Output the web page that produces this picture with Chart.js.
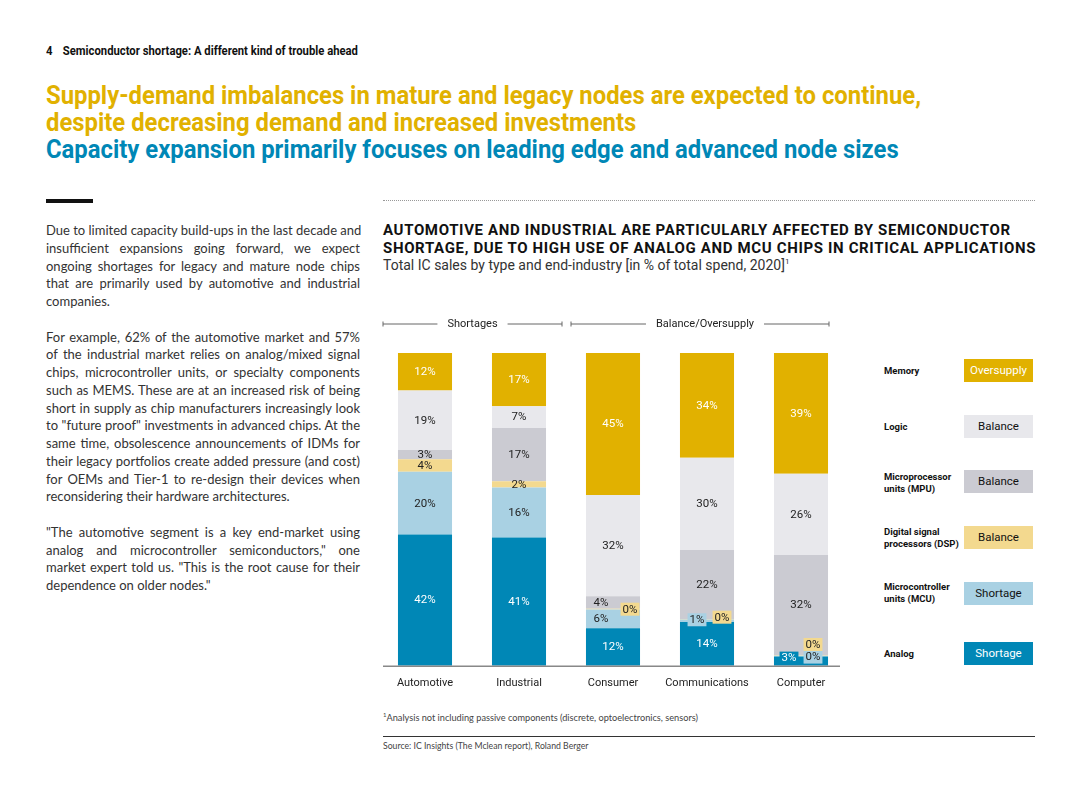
<!DOCTYPE html>
<html>
<head>
<meta charset="utf-8">
<script src="https://cdn.jsdelivr.net/npm/chart.js@4.4.1/dist/chart.umd.min.js"></script>
<style>
  html, body { margin: 0; padding: 0; background: #fff; }
  body { width: 1080px; height: 810px; position: relative; overflow: hidden; font-family: "Lato", "Noto Sans", sans-serif; color: #2b2b2b; }
  .abs { position: absolute; }
  #pagehead { left: 46px; top: 44px; font-family: "Roboto", sans-serif; font-weight: bold; font-size: 12px; color: #111; transform: scaleX(0.94); transform-origin: left top; white-space: nowrap; }
  #pagehead span { margin-right: 8px; }
  #title { left: 46px; top: 82px; font-family: "Roboto", sans-serif; font-weight: bold; font-size: 25px; line-height: 27px; transform: scaleX(0.954); transform-origin: left top; white-space: nowrap; }
  #title .y { color: #E1B100; }
  #title .b { color: #0087B6; }
  #blackbar { left: 46px; top: 199px; width: 47px; height: 4px; background: #111; }
  #dots { left: 383px; top: 200px; width: 652px; border-top: 1.5px dotted #999; }
  #body { left: 46px; top: 222px; width: 314px; font-size: 13px; line-height: 17.75px; color: #333; }
  #body div { text-align: justify; text-align-last: justify; white-space: nowrap; }
  #body div.last { text-align-last: left; }
  #body div.gap { height: 17.75px; }
  #chartHead { left: 383px; top: 221px; font-family: "Roboto", sans-serif; font-weight: bold; font-size: 15px; letter-spacing: 0.65px; line-height: 18px; color: #111; white-space: nowrap; }
  #chartSub { left: 383px; top: 257px; font-family: "Roboto", sans-serif; font-weight: 400; font-size: 14px; color: #333; white-space: nowrap; }
  #chartSub sup { font-size: 8px; }
  #chartWrap { left: 378px; top: 310px; width: 470px; height: 391px; }
  .lg { position: absolute; left: 884px; font-family: "Roboto", sans-serif; font-weight: bold; font-size: 9.5px; line-height: 12px; color: #111; }
  .lb { position: absolute; left: 964px; width: 69px; height: 23px; line-height: 23px; text-align: center; font-family: "Roboto", sans-serif; font-size: 11.5px; }
  #foot { left: 383px; top: 711px; font-size: 9.2px; color: #444; }
  #foot sup { font-size: 6px; }
  #rule { left: 383px; top: 736px; width: 652px; border-top: 1px solid #333; }
  #source { left: 383px; top: 740px; font-size: 8.7px; color: #444; }
</style>
</head>
<body>
<div id="pagehead" class="abs"><span>4</span> Semiconductor shortage: A different kind of trouble ahead</div>
<div id="title" class="abs">
  <div class="y">Supply-demand imbalances in mature and legacy nodes are expected to continue,</div>
  <div class="y">despite decreasing demand and increased investments</div>
  <div class="b">Capacity expansion primarily focuses on leading edge and advanced node sizes</div>
</div>
<div id="blackbar" class="abs"></div>
<div id="dots" class="abs"></div>

<div id="body" class="abs">
  <div>Due to limited capacity build-ups in the last decade and</div>
  <div>insufficient expansions going forward, we expect</div>
  <div>ongoing shortages for legacy and mature node chips</div>
  <div>that are primarily used by automotive and industrial</div>
  <div class="last">companies.</div>
  <div class="gap"></div>
  <div>For example, 62% of the automotive market and 57%</div>
  <div>of the industrial market relies on analog/mixed signal</div>
  <div>chips, microcontroller units, or specialty components</div>
  <div>such as MEMS. These are at an increased risk of being</div>
  <div>short in supply as chip manufacturers increasingly look</div>
  <div>to "future proof" investments in advanced chips. At the</div>
  <div>same time, obsolescence announcements of IDMs for</div>
  <div>their legacy portfolios create added pressure (and cost)</div>
  <div>for OEMs and Tier-1 to re-design their devices when</div>
  <div class="last">reconsidering their hardware architectures.</div>
  <div class="gap"></div>
  <div>"The automotive segment is a key end-market using</div>
  <div>analog and microcontroller semiconductors," one</div>
  <div>market expert told us. "This is the root cause for their</div>
  <div class="last">dependence on older nodes."</div>
</div>

<div id="chartHead" class="abs">AUTOMOTIVE AND INDUSTRIAL ARE PARTICULARLY AFFECTED BY SEMICONDUCTOR<br>SHORTAGE, DUE TO HIGH USE OF ANALOG AND MCU CHIPS IN CRITICAL APPLICATIONS</div>
<div id="chartSub" class="abs">Total IC sales by type and end-industry [in % of total spend, 2020]<sup>1</sup></div>

<div id="chartWrap" class="abs"><canvas id="chart" width="470" height="391"></canvas></div>

<div class="lg" style="top:365px">Memory</div>
<div class="lb" style="top:359px;background:#E1B100;color:#fff">Oversupply</div>
<div class="lg" style="top:421px">Logic</div>
<div class="lb" style="top:415px;background:#E8E8EC;color:#111">Balance</div>
<div class="lg" style="top:471px">Microprocessor<br>units (MPU)</div>
<div class="lb" style="top:470px;background:#CBCBD2;color:#111">Balance</div>
<div class="lg" style="top:526px">Digital signal<br>processors (DSP)</div>
<div class="lb" style="top:526px;background:#F3D98F;color:#111">Balance</div>
<div class="lg" style="top:581px">Microcontroller<br>units (MCU)</div>
<div class="lb" style="top:582px;background:#A9D1E3;color:#111">Shortage</div>
<div class="lg" style="top:648px">Analog</div>
<div class="lb" style="top:642px;background:#0087B6;color:#fff">Shortage</div>

<div id="foot" class="abs"><sup>1</sup>Analysis not including passive components (discrete, optoelectronics, sensors)</div>
<div id="rule" class="abs"></div>
<div id="source" class="abs">Source: IC Insights (The Mclean report), Roland Berger</div>

<script>
// Kategorien und Werte (in % der Gesamtausgaben, von unten nach oben gestapelt)
const industries = ["Automotive", "Industrial", "Consumer", "Communications", "Computer"];
const analog = [42, 41, 12, 14, 3];
const mcu = [20, 16, 6, 0.8, 0.2];
const dsp = [4, 2, 0.2, 0.2, 0.2];
const mpu = [3, 17, 4, 22, 32];
const logic = [19, 7, 32.4, 29.5, 26];
const memory = [12, 17, 45.4, 33.5, 38.6];

const groupLabels = ["Shortages", "Balance/Oversupply"];

const COLORS = {
    memory: "#E1B100",
    logic: "#E8E8EC",
    mpu: "#CBCBD2",
    dsp: "#F3D98F",
    mcu: "#A9D1E3",
    analog: "#0087B6"
};

// Sonderplatzierung kleiner Segmente: "dataset:index" -> Verschiebung / Hintergrund
const labelTweaks = {
    "1:2": { dx: -12 },
    "3:2": { dx: -12 },
    "2:2": { dx: 17, box: COLORS.dsp },
    "1:3": { dx: -10, dy: -1, box: COLORS.mcu },
    "2:3": { dx: 15, dy: -2, box: COLORS.dsp },
    "0:4": { dx: -12, dy: -3, box: COLORS.analog },
    "1:4": { dx: 12, dy: 1, box: COLORS.mcu },
    "2:4": { dx: 12, dy: -11, box: COLORS.dsp }
};

const segmentLabels = {
    id: "segmentLabels",
    afterDatasetsDraw(chart) {
        const ctx = chart.ctx;
        ctx.save();
        ctx.font = "11.5px Roboto, sans-serif";
        ctx.textAlign = "center";
        ctx.textBaseline = "middle";
        chart.data.datasets.forEach((ds, di) => {
            const meta = chart.getDatasetMeta(di);
            meta.data.forEach((bar, i) => {
                const t = labelTweaks[di + ":" + i] || {};
                const x = bar.x + (t.dx || 0);
                const y = (bar.y + bar.base) / 2 + (t.dy || 0);
                const txt = Math.round(ds.data[i]) + "%";
                if (t.box) {
                    const w = ctx.measureText(txt).width + 4;
                    ctx.fillStyle = t.box;
                    ctx.fillRect(x - w / 2, y - 6.5, w, 13);
                }
                ctx.fillStyle = ds.labelColor;
                ctx.fillText(txt, x, y + 0.5);
            });
        });
        ctx.restore();
    }
};

const groupHeaders = {
    id: "groupHeaders",
    afterDraw(chart) {
        const ctx = chart.ctx;
        const xs = chart.scales.x;
        const area = chart.chartArea;
        const mid = (xs.getPixelForValue(1) + xs.getPixelForValue(2)) / 2;
        const spans = [[area.left + 5, mid - 4], [mid + 5, area.right - 19]];
        const y = 14;
        ctx.save();
        ctx.font = "11px Roboto, sans-serif";
        ctx.textAlign = "center";
        ctx.textBaseline = "middle";
        ctx.strokeStyle = "#666";
        ctx.lineWidth = 1;
        spans.forEach((s, k) => {
            const cx = (s[0] + s[1]) / 2 + (k === 1 ? 5 : 0);
            const half = ctx.measureText(groupLabels[k]).width / 2 + 10;
            ctx.beginPath();
            ctx.moveTo(s[0], y); ctx.lineTo(cx - half, y);
            ctx.moveTo(cx + half, y); ctx.lineTo(s[1], y);
            ctx.moveTo(s[0], y - 2.5); ctx.lineTo(s[0], y + 2.5);
            ctx.moveTo(s[1], y - 2.5); ctx.lineTo(s[1], y + 2.5);
            ctx.stroke();
            ctx.fillStyle = "#222";
            ctx.fillText(groupLabels[k], cx, y);
        });
        // Grundlinie
        ctx.strokeStyle = "#888";
        ctx.lineWidth = 1.5;
        ctx.beginPath();
        ctx.moveTo(area.left + 5, area.bottom + 0.5);
        ctx.lineTo(area.right - 8, area.bottom + 0.5);
        ctx.stroke();
        ctx.restore();
    }
};

function makeSet(label, data, color, labelColor) {
    return {
        label, data,
        backgroundColor: color,
        labelColor,
        borderWidth: 0,
        barPercentage: 0.575,
        categoryPercentage: 1
    };
}

new Chart(document.getElementById("chart"), {
    type: "bar",
    data: {
        labels: industries,
        datasets: [
            makeSet("Analog", analog, COLORS.analog, "#fff"),
            makeSet("Microcontroller units (MCU)", mcu, COLORS.mcu, "#222"),
            makeSet("Digital signal processors (DSP)", dsp, COLORS.dsp, "#222"),
            makeSet("Microprocessor units (MPU)", mpu, COLORS.mpu, "#222"),
            makeSet("Logic", logic, COLORS.logic, "#222"),
            makeSet("Memory", memory, COLORS.memory, "#fff")
        ]
    },
    options: {
        responsive: false,
        animation: false,
        layout: { padding: { top: 43, left: 0, right: 0, bottom: 0 } },
        plugins: { legend: { display: false }, tooltip: { enabled: false } },
        scales: {
            x: {
                stacked: true,
                grid: { display: false, drawTicks: false },
                border: { display: false },
                ticks: { color: "#222", font: { family: "Roboto", size: 11 }, padding: 11 }
            },
            y: {
                stacked: true,
                display: false,
                min: 0,
                max: 100
            }
        }
    },
    plugins: [segmentLabels, groupHeaders]
});
</script>
</body>
</html>
